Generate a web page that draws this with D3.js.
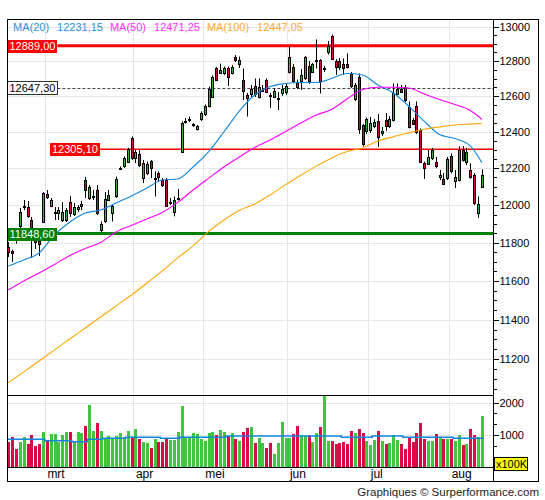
<!DOCTYPE html>
<html>
<head>
<meta charset="utf-8">
<title>DAX</title>
<script src="https://cdn.jsdelivr.net/npm/d3@7/dist/d3.min.js"></script>
<style>
  body { margin: 0; background: #fff; }
  svg { display: block; font-family: "Liberation Sans", Arial, sans-serif; }
  .axis path.domain { display: none; }
  .axis line { stroke: #000; shape-rendering: crispEdges; }
  .axis text { font-size: 11px; fill: #000; }
  .grid { stroke: #e6e6e6; stroke-width: 1; shape-rendering: crispEdges; }
</style>
</head>
<body>
<svg id="chart" width="545" height="500"></svg>
<script>
/*
** Data (daily candles, 124 sessions)
*/
var opens = [
    11779, 11757, 11836, 11889, 11990, 11990, 11921, 11825, 11809, 11910
  , 12061, 11996, 11958, 11958, 11921, 11921, 12015, 11953, 11982, 11998
  , 12136, 12039, 12047, 12082, 11865, 11913, 12028, 11958, 12047, 12196
  , 12215, 12237, 12364, 12257, 12281, 12147, 12174, 12240, 12142, 12172
  , 12136, 12136, 12012, 11966, 12034, 12292, 12456, 12467, 12439, 12414
  , 12475, 12500, 12543, 12594, 12758, 12732, 12732, 12761, 12732, 12824
  , 12786, 12695, 12607, 12613, 12658, 12594, 12633, 12692, 12610, 12594
  , 12588, 12619, 12624, 12738, 12769, 12681, 12687, 12704, 12772, 12738
  , 12804, 12806, 12755, 12850, 12942, 12798, 12798, 12786, 12784, 12729
  , 12585, 12709, 12439, 12403, 12411, 12431, 12461, 12397, 12467, 12436
  , 12467, 12613, 12644, 12655, 12537, 12467, 12545, 12411, 12229, 12226
  , 12259, 12232, 12153, 12139, 12147, 12268, 12131, 12136, 12300, 12237
  , 12191, 12164, 11958, 12096
];
var highs = [
    11804, 11764, 11878, 11985, 12028, 12023, 11937, 11846, 11836, 12071
  , 12082, 12039, 11990, 11990, 12017, 11985, 12050, 12012, 12001, 12023
  , 12153, 12109, 12082, 12109, 11913, 12071, 12082, 12001, 12155, 12210
  , 12265, 12312, 12375, 12300, 12300, 12246, 12237, 12246, 12183, 12183
  , 12147, 12147, 12039, 12047, 12088, 12459, 12478, 12486, 12450, 12439
  , 12515, 12554, 12655, 12718, 12767, 12786, 12769, 12769, 12778, 12835
  , 12826, 12758, 12619, 12664, 12701, 12701, 12664, 12701, 12619, 12647
  , 12624, 12664, 12673, 12884, 12784, 12695, 12755, 12830, 12801, 12789
  , 12925, 12812, 12772, 12916, 12953, 12812, 12818, 12815, 12844, 12738
  , 12675, 12729, 12445, 12481, 12484, 12472, 12500, 12428, 12506, 12489
  , 12673, 12673, 12664, 12664, 12571, 12478, 12571, 12420, 12237, 12300
  , 12312, 12262, 12191, 12175, 12262, 12281, 12191, 12320, 12322, 12312
  , 12227, 12175, 12047, 12194
];
var lows = [
    11725, 11699, 11794, 11857, 11974, 11932, 11720, 11767, 11730, 11905
  , 12034, 11990, 11921, 11921, 11910, 11910, 11937, 11942, 11964, 11974
  , 12039, 12028, 12028, 11948, 11857, 11905, 12023, 11913, 12039, 12191
  , 12202, 12229, 12246, 12229, 12207, 12120, 12164, 12147, 12047, 12128
  , 12098, 11990, 12001, 11940, 12025, 12284, 12447, 12456, 12428, 12408
  , 12461, 12489, 12537, 12590, 12687, 12729, 12721, 12658, 12724, 12795
  , 12761, 12579, 12486, 12596, 12596, 12588, 12624, 12619, 12534, 12590
  , 12523, 12602, 12607, 12729, 12676, 12641, 12636, 12692, 12670, 12732
  , 12758, 12616, 12738, 12838, 12806, 12721, 12749, 12721, 12758, 12647
  , 12573, 12389, 12320, 12389, 12395, 12422, 12317, 12378, 12406, 12422
  , 12458, 12607, 12619, 12568, 12420, 12439, 12389, 12232, 12142, 12218
  , 12246, 12202, 12136, 12109, 12136, 12172, 12093, 12128, 12237, 12218
  , 12144, 12001, 11932, 12093
];
var closes = [
    11751, 11746, 11815, 11961, 11996, 11942, 11878, 11804, 11794, 12066
  , 12044, 12028, 11964, 11974, 11964, 11972, 11958, 11990, 11988, 12004
  , 12082, 12096, 12052, 11958, 11900, 12036, 12055, 11996, 12144, 12202
  , 12254, 12306, 12257, 12287, 12218, 12229, 12224, 12202, 12147, 12150
  , 12109, 11996, 12015, 12028, 12039, 12450, 12464, 12472, 12442, 12433
  , 12506, 12545, 12644, 12712, 12692, 12749, 12761, 12709, 12767, 12806
  , 12806, 12630, 12588, 12644, 12613, 12650, 12638, 12627, 12604, 12630
  , 12593, 12641, 12661, 12824, 12687, 12653, 12721, 12821, 12687, 12784
  , 12809, 12687, 12761, 12887, 12812, 12769, 12764, 12758, 12769, 12658
  , 12664, 12414, 12336, 12470, 12450, 12456, 12375, 12403, 12436, 12473
  , 12616, 12644, 12627, 12579, 12428, 12447, 12400, 12237, 12202, 12262
  , 12300, 12210, 12164, 12115, 12251, 12183, 12153, 12300, 12246, 12289
  , 12153, 12012, 12009, 12164
];
// volume, in units of 100K
var volumes = [
    793, 927, 567, 793, 927, 721, 999, 659, 721, 1092
  , 824, 1030, 1020, 793, 999, 1092, 1092, 824, 1092, 1071
  , 1277, 1926, 1123, 1370, 1123, 886, 968, 886, 968, 1061
  , 927, 1123, 948, 1185, 876, 793, 742, 597, 865, 793
  , 793, 876, 845, 845, 1092, 1906, 948, 948, 1071, 1030
  , 886, 824, 1071, 1092, 999, 1154, 1092, 968, 1071, 886
  , 824, 1092, 1226, 1257, 762, 896, 762, 608, 762, 422
  , 762, 1401, 906, 906, 1030, 1277, 999, 968, 999, 793
  , 1071, 1246, 2230, 824, 824, 721, 762, 793, 721, 1133
  , 1061, 1185, 1061, 824, 690, 845, 1124, 814, 721, 752
  , 1000, 845, 721, 567, 917, 793, 1062, 1372, 876, 814
  , 814, 1031, 917, 876, 876, 876, 814, 1000, 690, 721
  , 1186, 1000, 938, 1588
];

// moving averages, read at every 4th session
var maIndex = [0, 4, 8, 12, 16, 20, 24, 28, 32, 36, 40, 44, 48, 52, 56, 60
  , 64, 68, 72, 76, 80, 84, 88, 92, 96, 100, 104, 108, 112, 116, 120, 123];
var ma20 = [11678, 11709, 11746, 11841, 11910, 11958, 11974, 12012, 12050, 12093
  , 12136, 12142, 12207, 12290, 12400, 12517, 12607, 12655, 12672, 12678, 12678
  , 12701, 12729, 12721, 12664, 12619, 12545, 12461, 12386, 12364, 12323, 12231];
var ma50 = [11553, 11600, 11641, 11686, 11733, 11770, 11801, 11857, 11892, 11926
  , 11961, 12015, 12082, 12145, 12207, 12262, 12314, 12356, 12403, 12450, 12495
  , 12526, 12585, 12638, 12651, 12651, 12647, 12613, 12582, 12554, 12520, 12471];
var ma100 = [11082, 11137, 11191, 11247, 11302, 11358, 11414, 11471, 11527, 11589
  , 11652, 11720, 11783, 11859, 11921, 11972, 12007, 12055, 12110, 12162, 12212
  , 12257, 12292, 12312, 12350, 12374, 12395, 12415, 12428, 12439, 12444, 12447];
var maNames = ["MA(20)", "MA(50)", "MA(100)"];
var maLastValues = ["12231,15", "12471,25", "12447,05"];

// average volume, drawn as steps
var volAvgStart = [0, 10, 17, 21, 25, 31, 40, 45, 57, 87, 95, 103, 116];
var volAvgValue = [867, 824, 793, 867, 898, 929, 898, 929, 969, 929, 969, 929, 898];

var monthLabels = ["mrt", "apr", "mei", "jun", "jul", "aug"];
var monthStart = [10, 33, 51, 73, 94, 115];

var levelValues = [12889.00, 12647.30, 12305.10, 11848.60];

var priceTicks = [11200, 11400, 11600, 11800, 12000, 12200, 12400, 12600, 12800, 13000];
var volumeTicks = [1000, 2000];


/*
** Drawing
*/
function draw() {
    var svg = d3.select("#chart");

    var frame = { left: 7.5, right: 493.5, outer: 538.5
                , top: 19.5, price: 395.5, volume: 467.5, bottom: 481.5 };

    var n = opens.length;
    var x = d3.scaleLinear().domain([0, n - 1]).range([8.3, 481.85]);
    var y = d3.scaleLog().domain([11022, 13038]).range([395, 20]);
    var yv = d3.scaleLinear().domain([0, 2000]).range([467.3, 402.7]);

    var upCandle = "#33b233", downCandle = "#d6003c"
      , upVol = "#3fc63f", downVol = "#dc0a46";
    var maColors = ["#1086de", "#ff00ff", "#ffa500"]
      , maTextColors = ["#2a91e6", "#ff2cff", "#ffa82e"];

    var crisp = function(v) { return Math.round(v) + 0.5; };

    var defs = svg.append("defs");
    defs.append("clipPath").attr("id", "clipPrice")
      .append("rect")
        .attr("x", frame.left).attr("y", frame.top)
        .attr("width", frame.right - frame.left)
        .attr("height", frame.price - frame.top);
    defs.append("clipPath").attr("id", "clipVol")
      .append("rect")
        .attr("x", frame.left).attr("y", frame.price)
        .attr("width", frame.right - frame.left)
        .attr("height", frame.volume - frame.price);

    /* grid */
    var grid = svg.append("g");
    grid.selectAll("line.h").data(priceTicks).enter()
      .append("line")
        .attr("class", "grid")
        .attr("x1", frame.left).attr("x2", frame.right)
        .attr("y1", function(d) { return crisp(y(d)); })
        .attr("y2", function(d) { return crisp(y(d)); });
    grid.selectAll("line.hv").data(volumeTicks).enter()
      .append("line")
        .attr("class", "grid")
        .attr("x1", frame.left).attr("x2", frame.right)
        .attr("y1", function(d) { return crisp(yv(d)); })
        .attr("y2", function(d) { return crisp(yv(d)); });
    grid.selectAll("line.v").data(monthStart).enter()
      .append("line")
        .attr("class", "grid")
        .attr("x1", function(d) { return crisp(x(d - 0.5)); })
        .attr("x2", function(d) { return crisp(x(d - 0.5)); })
        .attr("y1", frame.top).attr("y2", frame.volume);

    /* horizontal levels: style per line, label drawn on top later */
    var levelStyle = [
        { color: "#ff0000", width: 3, dash: null, box: "#ff0000", text: "#fff", x0: 7.5 }
      , { color: "#444", width: 1, dash: "3,2", box: "#fff", text: "#000", x0: 7.5 }
      , { color: "#ff0000", width: 1.5, dash: null, box: "#ff0000", text: "#fff", x0: 50 }
      , { color: "#008000", width: 3, dash: null, box: "#008000", text: "#fff", x0: 7.5 }
    ];
    var fmt = function(v) { return d3.format(".2f")(v).replace(".", ","); };

    /* price panel */
    var price = svg.append("g").attr("clip-path", "url(#clipPrice)");
    var levelLines = price.append("g");

    var candles = d3.range(n).map(function(i) {
        return { i: i, o: opens[i], h: highs[i], l: lows[i], c: closes[i], v: volumes[i] };
    });

    var candle = price.selectAll("g.candle").data(candles).enter()
      .append("g")
        .attr("class", "candle");
    candle.append("line")
        .attr("x1", function(d) { return crisp(x(d.i)); })
        .attr("x2", function(d) { return crisp(x(d.i)); })
        .attr("y1", function(d) { return y(d.h); })
        .attr("y2", function(d) { return y(d.l); })
        .attr("stroke", "#000")
        .attr("stroke-width", 1);
    candle.append("rect")
        .attr("x", function(d) { return crisp(x(d.i)) - 1; })
        .attr("width", 2)
        .attr("y", function(d) { return crisp(y(Math.max(d.o, d.c))); })
        .attr("height", function(d) {
            return Math.max(1, crisp(y(Math.min(d.o, d.c))) - crisp(y(Math.max(d.o, d.c))));
        })
        .attr("fill", function(d) { return d.c >= d.o ? upCandle : downCandle; })
        .attr("stroke", "#000")
        .attr("stroke-width", 1)
        .attr("shape-rendering", "crispEdges");

    var maLine = d3.line()
        .x(function(d) { return x(d[0]); })
        .y(function(d) { return y(d[1]); })
        .curve(d3.curveMonotoneX);
    [ma20, ma50, ma100].forEach(function(series, k) {
        price.append("path")
            .datum(maIndex.map(function(i, j) { return [i, series[j]]; }))
            .attr("d", maLine)
            .attr("fill", "none")
            .attr("stroke", maColors[k])
            .attr("stroke-width", 1.1);
    });

    var labels = svg.append("g");
    levelValues.forEach(function(v, k) {
        var s = levelStyle[k]
          , yy = s.width === 1 ? crisp(y(v)) : y(v);
        var label = labels.append("g");
        var t = label.append("text")
            .attr("x", s.x0 + 2)
            .attr("y", y(v))
            .attr("dy", "0.36em")
            .attr("font-size", "11px")
            .attr("fill", s.text)
            .text(fmt(v));
        var w = t.node().getComputedTextLength() + 4;
        label.insert("rect", "text")
            .attr("x", s.x0).attr("y", Math.round(y(v)) - 6.5)
            .attr("width", w).attr("height", 13)
            .attr("fill", s.box)
            .attr("stroke", s.box === "#fff" ? "#333" : "none")
            .attr("shape-rendering", "crispEdges");
        levelLines.append("line")
            .attr("x1", s.x0 + w).attr("x2", frame.right)
            .attr("y1", yy).attr("y2", yy)
            .attr("stroke", s.color)
            .attr("stroke-width", s.width)
            .attr("stroke-dasharray", s.dash);
    });

    /* legend */
    var legend = svg.append("text")
        .attr("x", 13).attr("y", 31)
        .attr("font-size", "11px");
    maNames.forEach(function(name, k) {
        legend.append("tspan")
            .attr("fill", maTextColors[k])
            .attr("dx", k === 0 ? 0 : 7)
            .text(name);
        legend.append("tspan")
            .attr("fill", maTextColors[k])
            .attr("dx", 8)
            .text(maLastValues[k]);
    });

    /* volume panel */
    var vol = svg.append("g").attr("clip-path", "url(#clipVol)");
    vol.selectAll("rect").data(candles).enter()
      .append("rect")
        .attr("x", function(d) { return Math.round(x(d.i)) - 1; })
        .attr("width", 3)
        .attr("y", function(d) { return yv(d.v); })
        .attr("height", function(d) { return yv(0) - yv(d.v); })
        .attr("fill", function(d) { return d.c >= d.o ? upVol : downVol; })
        .attr("shape-rendering", "crispEdges");

    var steps = volAvgStart.map(function(s, k) { return [s - 0.5, volAvgValue[k]]; });
    steps.push([n - 0.5, volAvgValue[volAvgValue.length - 1]]);
    vol.append("path")
        .datum(steps)
        .attr("d", d3.line()
            .x(function(d) { return x(d[0]); })
            .y(function(d) { return yv(d[1]); })
            .curve(d3.curveStepAfter))
        .attr("fill", "none")
        .attr("stroke", "#1086de")
        .attr("stroke-width", 1.5);

    /* axes */
    var minorPrice = d3.range(11050, 13001, 50).filter(function(v) { return v % 200 !== 0; });
    svg.append("g").attr("class", "axis")
        .attr("transform", "translate(" + frame.right + ",0)")
        .call(d3.axisRight(y).tickValues(minorPrice).tickSize(3).tickFormat(""));
    svg.append("g").attr("class", "axis")
        .attr("transform", "translate(" + frame.right + ",0)")
        .call(d3.axisRight(y).tickValues(priceTicks).tickSize(5).tickPadding(1)
            .tickFormat(d3.format("d")));
    svg.append("g").attr("class", "axis")
        .attr("transform", "translate(" + frame.right + ",0)")
        .call(d3.axisRight(yv).tickValues([333, 667, 1333, 1667]).tickSize(3).tickFormat(""));
    svg.append("g").attr("class", "axis")
        .attr("transform", "translate(" + frame.right + ",0)")
        .call(d3.axisRight(yv).tickValues(volumeTicks).tickSize(5).tickPadding(1)
            .tickFormat(d3.format("d")));

    svg.selectAll("text.month").data(monthLabels).enter()
      .append("text")
        .attr("class", "month")
        .attr("x", function(d, k) { return x(monthStart[k] - 0.5) + 2.5; })
        .attr("y", 477.5)
        .attr("font-size", "12px")
        .text(function(d) { return d; });

    /* frame lines */
    var frameLines = svg.append("g")
        .attr("stroke", "#000")
        .attr("stroke-width", 1)
        .attr("shape-rendering", "crispEdges");
    frameLines.append("rect")
        .attr("x", frame.left).attr("y", frame.top)
        .attr("width", frame.outer - frame.left)
        .attr("height", frame.bottom - frame.top)
        .attr("fill", "none");
    frameLines.append("line")
        .attr("x1", frame.right).attr("x2", frame.right)
        .attr("y1", frame.top).attr("y2", frame.bottom);
    frameLines.append("line")
        .attr("x1", frame.left).attr("x2", frame.right)
        .attr("y1", frame.price).attr("y2", frame.price);
    frameLines.append("line")
        .attr("x1", frame.left).attr("x2", frame.right)
        .attr("y1", frame.volume).attr("y2", frame.volume);

    var unit = svg.append("g");
    unit.append("rect")
        .attr("x", 494.5).attr("y", 457.5)
        .attr("width", 33).attr("height", 13)
        .attr("fill", "#ffff00")
        .attr("stroke", "#000")
        .attr("shape-rendering", "crispEdges");
    unit.append("text")
        .attr("x", 496).attr("y", 468)
        .attr("font-size", "11px")
        .text("x100K");

    svg.append("text")
        .attr("x", 539).attr("y", 496)
        .attr("text-anchor", "end")
        .attr("font-size", "11.5px")
        .attr("fill", "#222")
        .text("Graphiques \u00a9 Surperformance.com");
}

draw();
</script>
</body>
</html>
